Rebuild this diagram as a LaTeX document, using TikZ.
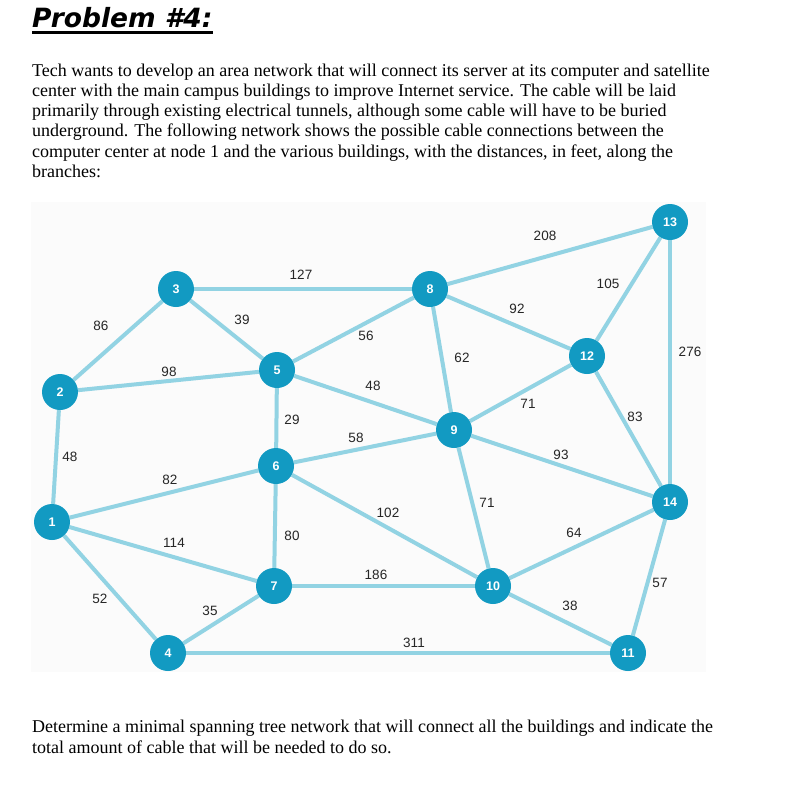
\documentclass[tikz,border=0pt]{standalone}
\usepackage{fontspec}
\usetikzlibrary{backgrounds}
\setmainfont{Liberation Serif}
\newfontfamily\labfont{Liberation Sans}
\newfontfamily\titlefont{DejaVu Sans}
\definecolor{nodeblue}{HTML}{129AC2}
\definecolor{edgeblue}{HTML}{92D3E3}
\definecolor{panel}{HTML}{FBFBFB}
\begin{document}
\begin{tikzpicture}[x=1pt,y=-1pt,
  vtx/.style={circle,fill=nodeblue,minimum size=36pt,inner sep=0pt,text=white,font=\labfont\bfseries\fontsize{12.5}{12.5}\selectfont},
  edge/.style={draw=edgeblue,line width=4pt},
  wt/.style={font=\labfont\fontsize{13.5}{13.5}\selectfont,inner sep=0pt,text=black!85},
  txt/.style={anchor=base west,inner sep=0pt,font=\fontsize{18}{18}\selectfont}]
\useasboundingbox (0,0) rectangle (785,790);
% title
\node[anchor=base west,inner sep=0pt,font=\titlefont\bfseries\itshape\fontsize{26.5}{26.5}\selectfont] (title) at (32,27) {Problem \#4:};
\draw[line width=3pt] (title.base west |- 0,32) -- (title.base east |- 0,32);
% paragraph
\node[txt] (p1) at (32,76) {Tech wants to develop an area network that will connect its server at its computer and satellite};
\node[txt] (p2) at (32,96) {center with the main campus buildings to improve Internet service. The cable will be laid};
\node[txt] (p3) at (32,116) {primarily through existing electrical tunnels, although some cable will have to be buried};
\node[txt] (p4) at (32,136) {underground. The following network shows the possible cable connections between the};
\node[txt] (p5) at (32,157) {computer center at node 1 and the various buildings, with the distances, in feet, along the};
\node[txt] (p6) at (32,177) {branches:};
\node[txt] (q1) at (32,732) {Determine a minimal spanning tree network that will connect all the buildings and indicate the};
\node[txt] (q2) at (32,753) {total amount of cable that will be needed to do so.};
% vertices
\node[vtx] (n1) at (52,522) {1};
\node[vtx] (n2) at (60,392) {2};
\node[vtx] (n3) at (176,289) {3};
\node[vtx] (n4) at (168,653) {4};
\node[vtx] (n5) at (277,370) {5};
\node[vtx] (n6) at (276,466) {6};
\node[vtx] (n7) at (274,586) {7};
\node[vtx] (n8) at (430,289) {8};
\node[vtx] (n9) at (454,430) {9};
\node[vtx] (n10) at (493,586) {10};
\node[vtx] (n11) at (628,653) {11};
\node[vtx] (n12) at (587,356) {12};
\node[vtx] (n13) at (670,222) {13};
\node[vtx] (n14) at (670,502) {14};
% edges
\begin{scope}[on background layer]
\fill[panel] (31,202) rectangle (706,672);
\foreach \a/\b in {1/2,2/3,3/5,3/8,2/5,5/8,5/9,5/6,6/9,1/6,1/7,1/4,4/7,6/7,6/10,7/10,4/11,8/9,8/12,8/13,9/12,9/10,9/14,12/13,12/14,13/14,10/14,10/11,11/14}
  \draw[edge] (n\a) -- (n\b);
\end{scope}
% weights
\node[wt] (w12) at (70,457) {48};
\node[wt] (w23) at (101,326) {86};
\node[wt] (w35) at (242,320) {39};
\node[wt] (w38) at (301,275) {127};
\node[wt] (w25) at (169,372) {98};
\node[wt] (w58) at (366,336) {56};
\node[wt] (w59) at (373,386) {48};
\node[wt] (w56) at (292,420) {29};
\node[wt] (w69) at (356,438) {58};
\node[wt] (w16) at (170,480) {82};
\node[wt] (w610) at (388,513) {102};
\node[wt] (w17) at (174,543) {114};
\node[wt] (w67) at (292,536) {80};
\node[wt] (w710) at (376,575) {186};
\node[wt] (w14) at (100,599) {52};
\node[wt] (w47) at (210,611) {35};
\node[wt] (w411) at (414,643) {311};
\node[wt] (w813) at (545,236) {208};
\node[wt] (w1213) at (608,284) {105};
\node[wt] (w812) at (517,309) {92};
\node[wt] (w89) at (462,358) {62};
\node[wt] (w1314) at (690,352) {276};
\node[wt] (w912) at (528,404) {71};
\node[wt] (w1214) at (635,417) {83};
\node[wt] (w914) at (561,455) {93};
\node[wt] (w910) at (487,503) {71};
\node[wt] (w1014) at (574,533) {64};
\node[wt] (w1114) at (660,583) {57};
\node[wt] (w1011) at (570,606) {38};
\end{tikzpicture}
\end{document}
